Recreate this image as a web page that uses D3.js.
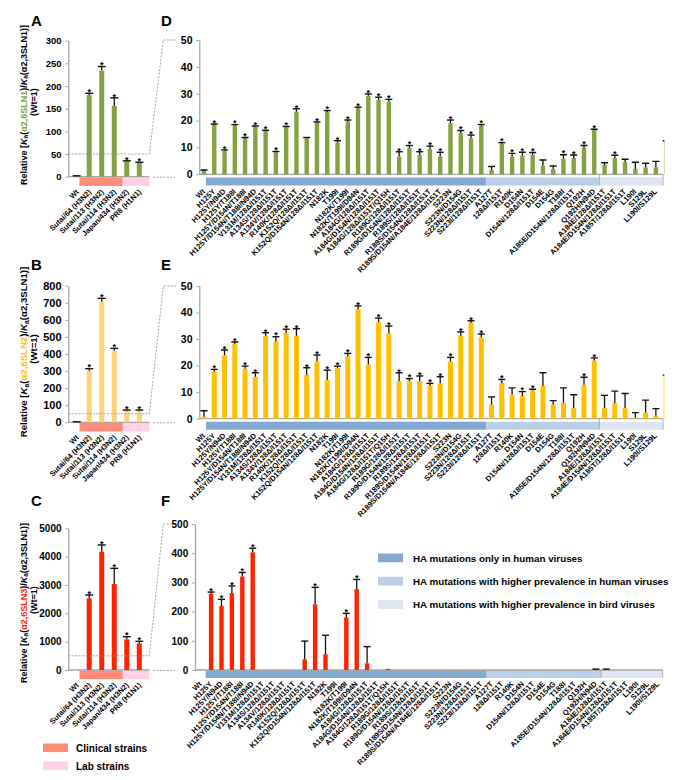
<!DOCTYPE html>
<html><head><meta charset="utf-8">
<script src="https://cdn.jsdelivr.net/npm/d3@7"></script>
<style>body{margin:0;background:#fff}svg{display:block}</style>
</head><body>
<svg id="c" width="680" height="780"></svg>
<script>
// ---------------- DATA ----------------
const strains = ["Wt","Sutai/64 (H3N2)","Sutai/113 (H3N2)","Sutai/114 (H3N2)","Japan/434 (H3N2)","PR8 (H1N1)"];
const strainType = ["wt","clinical","clinical","clinical","lab","lab"];
const aVals = [1,180,234,156,34,31];
const aErr  = [1,4,9,18,1,1];
const aSig  = [0,1,1,1,1,1];
const bVals = [1,302,706,419,68,68];
const bErr  = [2,12,20,14,4,4];
const bSig  = [0,1,1,1,1,1];
const cVals = [1,2529,4176,3035,1082,941];
const cErr  = [0,118,236,553,94,71];
const cSig  = [0,1,1,1,1,1];

const mutations = [
"Wt","H125Y","H125Y/N94D","H125Y/T188I","H125Y/D154N/T188I","H125Y/D154N/T188I/N94D",
"V131M/128Δ/I151T","A134S/128Δ/I151T","A134V/128Δ/I151T","R140K/128Δ/I151T","K152Q/128Δ/I151T","K152Q/D154N/128Δ/I151T",
"N182K","T199I","N182K/T199I","N182K/T199I/D94N",
"A184G/128Δ/I151T","A184G/D154N/128Δ/I151T","A184G/128Δ/I151T/Q15H",
"R189G/128Δ/I151T","R189G/D154N/128Δ/I151T","R189S/128Δ/I151T","R189S/D154N/128Δ/I151T","R189S/D154N/A184E/128Δ/I151T",
"S223N","S223N/D154G","S223N/128Δ/I151T","S223I/128Δ/I151T",
"A127T","128Δ/I151T","R140K","D154N","D154N/128Δ/I151T","D154E","D154G","T188I","A185E/D154N/128Δ/I151T","Q192H","Q192H/N94D",
"A184E/128Δ/I151T","A184E/D154N/128Δ/I151T","A185T/128Δ/I151T","L190I","S129L","L190I/S129L"];
const cutCategory = "(cut off)";   // bar clipped at right edge of original figure
const groupNames = ["HA mutations only in human viruses","HA mutations with higher prevalence in human viruses","HA mutations with higher prevalence in bird viruses"];
const groupSizes = [28,11,6];
const groupColors = ["#83a9d2","#bccfe8","#dde6f2"];

const dVals = [1.4,18.4,8.8,18.2,13.4,17.7,16.1,8.2,17.5,23.3,13.4,19.2,23.1,11.8,19.6,24.6,29.2,27.7,27.0,6.6,9.9,7.2,9.4,6.6,19.0,15.3,13.4,18.0,1.6,11.3,6.6,6.9,7.2,3.2,1.9,5.8,6.0,9.9,16.5,3.5,6.0,4.5,2.0,2.6,2.6,12.2];
const dErr  = [0.2,0.3,0.3,0.3,0.3,0.3,0.3,0.3,0.3,1.1,0.3,0.3,0.6,0.7,0.6,0.4,0.7,1.0,0.9,1.8,0.8,1.2,1.1,1.6,1.2,1.0,1.2,0.5,1.3,0.5,1.2,1.3,0.9,2.1,1.2,1.5,1.2,0.8,0.3,0.8,1.1,1.1,2.5,1.5,2.2,0.3];
const dSig  = [0,1,1,1,1,1,1,1,1,1,0,1,1,1,1,1,1,1,1,1,1,1,1,1,1,1,1,1,0,1,1,1,1,0,0,1,1,1,1,0,1,0,0,0,0,0];

const eVals = [0.75,17.7,23.9,28.1,18.8,15.8,31.2,29.1,32.2,31.2,16.5,21.6,14.6,19.1,23.4,41.2,20.4,36.4,32.2,14.1,14.1,14.1,12.3,13.3,21.5,31.3,36.2,30.7,5.3,13.4,9.0,8.6,10.6,12.3,5.3,5.8,4.0,12.8,21.9,4.0,5.8,4.0,0.4,2.3,1.1,16.1];
const eErr  = [2.25,0.9,2.0,0.8,1.0,1.5,1.2,1.8,1.5,2.7,2.7,2.4,3.7,0.7,1.2,1.3,2.7,1.5,2.7,3.2,1.0,2.0,1.0,2.5,1.6,1.4,0.7,1.2,2.9,1.4,2.6,1.6,0.5,5.0,1.5,5.8,5.0,2.8,1.0,4.8,4.6,5.5,1.9,4.7,2.7,0.3];
const eSig  = [0,1,1,1,1,1,1,1,1,1,1,1,1,1,1,1,1,1,1,1,1,1,1,1,1,1,1,1,0,1,0,1,1,0,0,0,0,1,1,0,0,0,0,0,0,0];

const fVals = [1,261,219,263,320,403,0,0,0,0,36.5,225,54,0,180,277,23,0,4,0,0,0,0,0,0,0,0,0,0,0,0,0,0,0,0,0,0,0,1,1,0,0,0,0,0,0];
const fErr  = [0,6,23,25,14,14,0,0,0,0,62.5,58,65,0,14,33,57,0,0,0,0,0,0,0,0,0,0,0,0,0,0,0,0,0,0,0,0,0,2,2,0,0,0,0,0,0];
const fSig  = [0,1,1,1,1,1,0,0,0,0,0,1,0,0,1,1,0,0,0,0,0,0,0,0,0,0,0,0,0,0,0,0,0,0,0,0,0,0,0,0,0,0,0,0,0,0];

const legendStrains = ["Clinical strains","Lab strains"];

// ---------------- DRAWING ----------------
const FONT = "Arial, 'Liberation Sans', Helvetica, sans-serif";
const svg = d3.select("#c").attr("font-family", FONT);
const GRAY = "#a6a6a6";
const COL = {green:"#84a244", lightOrange:"#ffd27a", yellow:"#ffc000", red:"#ff2200",
             salmon:"#ff8b78", pink:"#ffd0e6", titleGreen:"#7aa23a", titleYellow:"#ffc000", titleRed:"#ff2200"};

function yAxis(g, y, max, step, axisX, fs){
  const ax = g.append("g").attr("transform",`translate(${axisX},0)`)
    .call(d3.axisLeft(y).tickValues(d3.range(0, max+1, step)).tickFormat(d3.format("d"))
      .tickSize(3).tickSizeOuter(0).tickPadding(3.8));
  ax.select(".domain").attr("stroke",GRAY).attr("stroke-width",1.3);
  ax.selectAll(".tick line").attr("stroke",GRAY);
  ax.selectAll(".tick text").attr("font-size",fs).attr("font-weight","bold").attr("fill","#000").attr("font-family",FONT);
}

function bars(g, x, y, cats, vals, errs, sig, color, bw, capW){
  const data = cats.map((c,i)=>({c, v:vals[i], e:errs[i], s:sig[i]}));
  g.selectAll(null).data(data).join("rect")
    .attr("x", d=>x(d.c)-bw/2).attr("width", bw)
    .attr("y", d=>y(d.v)).attr("height", d=>Math.max(0, y(0)-y(d.v)))
    .attr("fill", color);
  const eb = data.filter(d=>d.e>0);
  g.selectAll(null).data(eb).join("line")
    .attr("x1",d=>x(d.c)).attr("x2",d=>x(d.c))
    .attr("y1",d=>y(d.v)).attr("y2",d=>y(d.v+d.e))
    .attr("stroke","#111").attr("stroke-width",1.3);
  g.selectAll(null).data(eb).join("line")
    .attr("x1",d=>x(d.c)-capW/2).attr("x2",d=>x(d.c)+capW/2)
    .attr("y1",d=>y(d.v+d.e)).attr("y2",d=>y(d.v+d.e))
    .attr("stroke","#111").attr("stroke-width",1.4);
  g.selectAll(null).data(data.filter(d=>d.s)).join("text")
    .attr("x",d=>x(d.c)).attr("y",d=>y(d.v+d.e)+1.8)
    .attr("text-anchor","middle").attr("font-size",9).attr("font-weight","bold").text("*");
}

function leftTitle(cy, colored, color, fs){
  const t = svg.append("text").attr("transform",`translate(26.5,${cy}) rotate(-90)`)
    .attr("text-anchor","middle").attr("font-size",fs).attr("font-weight","bold").attr("fill","#000");
  t.append("tspan").text("Relative [");
  t.append("tspan").attr("font-style","italic").text("K");
  t.append("tspan").attr("font-size",fs*0.72).attr("dy",fs*0.22).text("a");
  t.append("tspan").attr("dy",-fs*0.22).text("(");
  t.append("tspan").attr("fill",color).text(colored);
  t.append("tspan").text(")/");
  t.append("tspan").attr("font-style","italic").text("K");
  t.append("tspan").attr("font-size",fs*0.72).attr("dy",fs*0.22).text("a");
  t.append("tspan").attr("dy",-fs*0.22).text("(α2,3SLN1)]");
  svg.append("text").attr("transform",`translate(37,${cy-3}) rotate(-90)`)
    .attr("text-anchor","middle").attr("font-size",fs).attr("font-weight","bold").text("(Wt=1)");
}

function panelLetter(txt, x, y){
  svg.append("text").attr("x",x).attr("y",y).attr("font-size",15).attr("font-weight","bold").text(txt);
}

function strainPanel(p){
  const g = svg.append("g");
  const x = d3.scalePoint().domain(strains).range([76.7, 139.3]);
  const y = d3.scaleLinear().domain([0,p.max]).range([p.y0, p.yT]);
  const step = x.step();
  const clin = strains.filter((s,i)=>strainType[i]==="clinical");
  const lab = strains.filter((s,i)=>strainType[i]==="lab");
  const s0 = x(clin[0]) - 0.78*step, s1 = x(lab[0]) - 0.32*step, s2 = x(lab[lab.length-1]) + 0.8*step;
  const sy = p.y0 + 0.6, sh = 8.6;
  g.append("rect").attr("x",s0).attr("y",sy).attr("width",s1-s0).attr("height",sh).attr("fill",COL.salmon);
  g.append("rect").attr("x",s1).attr("y",sy).attr("width",s2-s1).attr("height",sh).attr("fill",COL.pink);
  g.append("line").attr("x1",68.3).attr("x2",s2).attr("y1",p.y0).attr("y2",p.y0).attr("stroke",GRAY).attr("stroke-width",1.3);
  yAxis(g, y, p.max, p.step, 68.3, p.fs);
  bars(g, x, y, strains, p.vals, p.errs, p.sig, p.color, 5, 8);
  g.selectAll(null).data(strains).join("text")
    .attr("transform",d=>`translate(${x(d)+2.5},${sy+sh+6.5}) rotate(-45)`)
    .attr("text-anchor","end").attr("font-size",7.5).attr("font-weight","bold").text(d=>d);
  // zoom connector
  const zy = y(p.zoomMax);
  g.append("path").attr("d",`M68.3,${zy}H${s2}L163.3,${p.targetTop}H177`)
    .attr("fill","none").attr("stroke","#8c8c8c").attr("stroke-width",0.8).attr("stroke-dasharray","2,1.5");
  g.append("path").attr("d",`M153,${p.y0+0.5}H175`)
    .attr("fill","none").attr("stroke","#8c8c8c").attr("stroke-width",0.8).attr("stroke-dasharray","2,1.5");
  leftTitle(p.titleY, p.colored, p.titleColor, p.titleFs);
  return y;
}

function mutPanel(p){
  const g = svg.append("g");
  const cats = mutations.concat([cutCategory]);
  const x = d3.scalePoint().domain(cats).range([p.x0, p.x0 + (cats.length-1)*p.step]);
  const y = d3.scaleLinear().domain([0,p.max]).range([p.y0, p.yT]);
  const step = x.step();
  const sy = p.y0 + p.gap, sh = 8;
  let start = 0, bounds = [];
  groupSizes.forEach((n,k)=>{
    const first = mutations[start], last = mutations[start+n-1];
    const xa = k===0 ? x(first)+p.startPad*step : x(first)-step/2;
    const xb = k===groupSizes.length-1 ? x(last)+p.endPad*step : x(last)+step/2;
    bounds.push([xa,xb]);
    start += n;
  });
  bounds.forEach((b,k)=>g.append("rect").attr("x",b[0]).attr("y",sy).attr("width",b[1]-b[0]).attr("height",sh).attr("fill",groupColors[k]));
  const xEnd = bounds[bounds.length-1][1];
  [bounds[2][0], xEnd].forEach(xx=>g.append("line").attr("x1",xx).attr("x2",xx).attr("y1",p.y0).attr("y2",sy+sh).attr("stroke","#b0b0b0").attr("stroke-width",1));
  g.append("line").attr("x1",p.axisX).attr("x2",xEnd).attr("y1",p.y0).attr("y2",p.y0).attr("stroke",GRAY).attr("stroke-width",1.3);
  yAxis(g, y, p.max, p.step10, p.axisX, p.fs);
  const clipId = "clip"+p.id;
  svg.append("clipPath").attr("id",clipId).append("rect").attr("x",p.axisX).attr("y",0).attr("width",xEnd+1.3-p.axisX).attr("height",780);
  const bg = g.append("g").attr("clip-path",`url(#${clipId})`);
  bars(bg, x, y, cats, p.vals, p.errs, p.sig, p.color, p.bw, 7);
  g.selectAll(null).data(mutations).join("text")
    .attr("transform",d=>`translate(${x(d)+1.5},${sy+sh+6.5}) rotate(-45)`)
    .attr("text-anchor","end").attr("font-size",7.5).attr("font-weight","bold").text(d=>d);
  return {x,y,bounds};
}

// Panel A / D
panelLetter("A", 31, 26);
panelLetter("D", 161, 26);
const yD = d3.scaleLinear().domain([0,50]).range([174.3,40]);
strainPanel({max:300, step:50, y0:176.7, yT:40.7, fs:9.5, vals:aVals, errs:aErr, sig:aSig, color:COL.green,
  zoomMax:50, targetTop:yD(50), titleY:105, colored:"α2,6SLN1", titleColor:COL.titleGreen, titleFs:9});
mutPanel({id:"D", max:50, step10:10, y0:174.3, yT:40, fs:10.5, axisX:199.3, x0:204, step:10.27, gap:3.2,
  startPad:0.2, endPad:0.7, vals:dVals, errs:dErr, sig:dSig, color:COL.green, bw:4.4});

// Panel B / E
panelLetter("B", 31, 270);
panelLetter("E", 161, 270);
const yE = d3.scaleLinear().domain([0,50]).range([418.7,286]);
strainPanel({max:800, step:100, y0:422.3, yT:285.7, fs:11, vals:bVals, errs:bErr, sig:bSig, color:COL.lightOrange,
  zoomMax:50, targetTop:yE(50), titleY:352, colored:"α2,6SLN2", titleColor:COL.titleYellow, titleFs:9.6});
mutPanel({id:"E", max:50, step10:10, y0:418.7, yT:286, fs:10.5, axisX:199.3, x0:204, step:10.27, gap:3,
  startPad:0.2, endPad:0.7, vals:eVals, errs:eErr, sig:eSig, color:COL.yellow, bw:5});

// Panel C / F
panelLetter("C", 31, 506);
panelLetter("F", 161, 506);
const yF = d3.scaleLinear().domain([0,500]).range([670,524]);
strainPanel({max:5000, step:1000, y0:670, yT:528.3, fs:10, vals:cVals, errs:cErr, sig:cSig, color:COL.red,
  zoomMax:500, targetTop:yF(500), titleY:603, colored:"α2,6SLN3", titleColor:COL.titleRed, titleFs:9});
mutPanel({id:"F", max:500, step10:100, y0:670, yT:524, fs:10, axisX:195, x0:200.7, step:10.4, gap:0,
  startPad:0.48, endPad:0.42, vals:fVals, errs:fErr, sig:fSig, color:COL.red, bw:4.4});

// Legend (strains)
const lg = svg.append("g");
lg.selectAll(null).data(legendStrains).join("rect")
  .attr("x",43).attr("y",(d,i)=>743.5+i*18).attr("width",25).attr("height",8.6)
  .attr("fill",(d,i)=>i===0?COL.salmon:COL.pink);
lg.selectAll(null).data(legendStrains).join("text")
  .attr("x",76).attr("y",(d,i)=>748+i*18).attr("dy","0.35em")
  .attr("font-size",10).attr("font-weight","bold").text(d=>d);

// Legend (mutation groups)
const lg2 = svg.append("g");
lg2.selectAll(null).data(groupNames).join("rect")
  .attr("x",378).attr("y",(d,i)=>553.5+i*23.3).attr("width",25).attr("height",8.8)
  .attr("fill",(d,i)=>groupColors[i]);
lg2.selectAll(null).data(groupNames).join("text")
  .attr("x",413).attr("y",(d,i)=>558.2+i*23.3).attr("dy","0.35em")
  .attr("font-size",9.8).attr("font-weight","bold").text(d=>d);
</script>
</body></html>
